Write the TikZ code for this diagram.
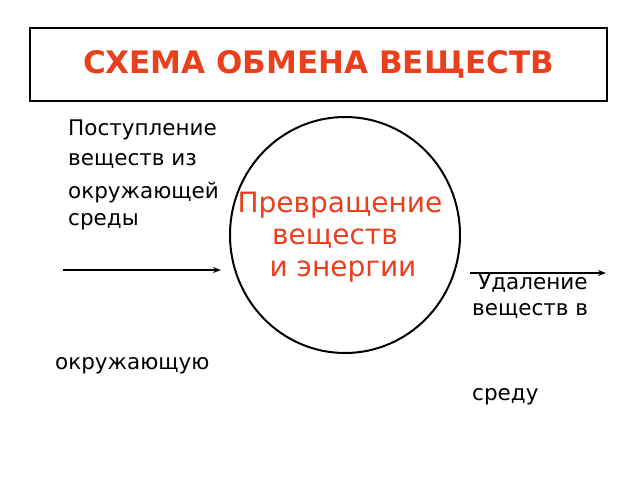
\documentclass[tikz,border=0pt]{standalone}
\usepackage{fontspec}
\setmainfont{DejaVu Sans}
\usetikzlibrary{arrows.meta,shapes.geometric}
\definecolor{redt}{HTML}{E8401C}
\begin{document}
\begin{tikzpicture}[x=1pt,y=-1pt,
  lbl/.style={anchor=west,inner sep=0pt,font=\fontsize{21.5}{24}\selectfont},
  big/.style={text=redt,font=\fontsize{28}{32}\selectfont,align=center},
  arr/.style={-{Stealth[length=8pt,width=6pt]},line width=1.6pt}]
\useasboundingbox (0,0) rectangle (640,480);
\node[draw,line width=2pt,minimum width=577pt,minimum height=73pt,inner sep=0pt,
  text=redt,font=\bfseries\fontsize{31}{34}\selectfont] (title) at (318.5,64.5) {СХЕМА ОБМЕНА ВЕЩЕСТВ};
\node[draw,ellipse,line width=2pt,minimum width=230pt,minimum height=236pt,inner sep=0pt] (c) at (345,235) {};
\node[big] (t1) at (340,205) {Превращение};
\node[big] (t2) at (335,239) {веществ};
\node[big] (t3) at (343,272) {и энергии};
\node[lbl] (l1) at (68,130) {Поступление};
\node[lbl] (l2) at (68,161) {веществ из};
\node[lbl] (l3) at (68,193) {окружающей};
\node[lbl] (l4) at (68,222) {среды};
\coordinate (a1) at (63,270); \coordinate (a2) at (221,270);
\draw[arr] (a1) -- (a2);
\coordinate (b1) at (470,273); \coordinate (b2) at (606,273);
\draw[arr] (b1) -- (b2);
\node[lbl] (r1) at (478,283) {Удаление};
\node[lbl] (r2) at (472,311) {веществ в};
\node[lbl] (r3) at (55,366) {окружающую};
\node[lbl] (r4) at (472,397) {среду};
\end{tikzpicture}
\end{document}
